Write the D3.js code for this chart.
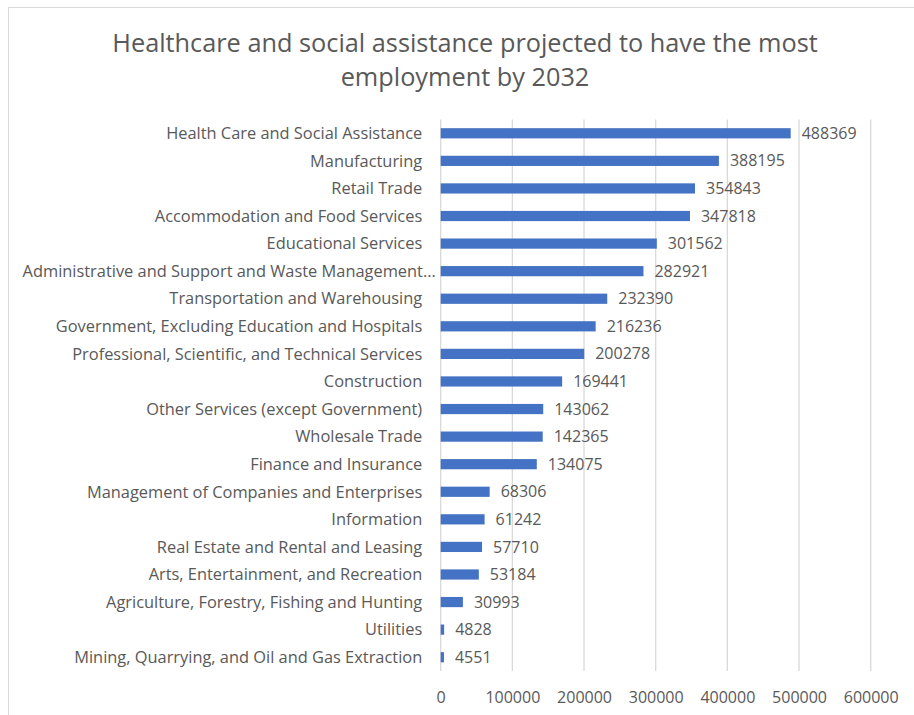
<!DOCTYPE html>
<html>
<head>
<meta charset="utf-8">
<script src="https://cdn.jsdelivr.net/npm/d3@7"></script>
<style>
  html, body { margin: 0; padding: 0; background: #fff; }
  svg { display: block; font-family: "Open Sans", sans-serif; }
</style>
</head>
<body>
<svg id="chart" width="914" height="715"></svg>
<script>
// Projected employment by industry, 2032
const industries = [
  "Health Care and Social Assistance",
  "Manufacturing",
  "Retail Trade",
  "Accommodation and Food Services",
  "Educational Services",
  "Administrative and Support and Waste Management…",
  "Transportation and Warehousing",
  "Government, Excluding Education and Hospitals",
  "Professional, Scientific, and Technical Services",
  "Construction",
  "Other Services (except Government)",
  "Wholesale Trade",
  "Finance and Insurance",
  "Management of Companies and Enterprises",
  "Information",
  "Real Estate and Rental and Leasing",
  "Arts, Entertainment, and Recreation",
  "Agriculture, Forestry, Fishing and Hunting",
  "Utilities",
  "Mining, Quarrying, and Oil and Gas Extraction"
];
const employment = [
  488369, 388195, 354843, 347818, 301562, 282921, 232390, 216236, 200278, 169441,
  143062, 142365, 134075, 68306, 61242, 57710, 53184, 30993, 4828, 4551
];
const xTicks = [0, 100000, 200000, 300000, 400000, 500000, 600000];
const titleLines = [
  "Healthcare and social assistance projected to have the most",
  "employment by 2032"
];

const textColor = "#595959";
const gridColor = "#d9d9d9";
const barColor = "#4472C4";

const svg = d3.select("#chart");

// chart frame
svg.append("rect")
  .attr("x", 8.5).attr("y", 7.5)
  .attr("width", 930).attr("height", 730)
  .attr("fill", "#fff")
  .attr("stroke", "#d9d9d9")
  .attr("stroke-width", 1);

const plot = { left: 440.7, right: 870.7, top: 119.5, bottom: 671 };

const x = d3.scaleLinear()
  .domain([0, 600000])
  .range([plot.left, plot.right]);

const y = d3.scaleBand()
  .domain(industries)
  .range([plot.top, plot.bottom])
  .paddingInner(0.63)
  .paddingOuter(0.315);

// title
svg.append("text")
  .attr("x", 465)
  .attr("y", 52)
  .attr("text-anchor", "middle")
  .attr("fill", textColor)
  .attr("font-size", 25.3)
  .selectAll("tspan")
  .data(titleLines)
  .join("tspan")
  .attr("x", 465)
  .attr("dy", (d, i) => i === 0 ? 0 : 34)
  .text(d => d);

// vertical gridlines
svg.append("g")
  .selectAll("line")
  .data(xTicks.slice(1))
  .join("line")
  .attr("x1", d => x(d)).attr("x2", d => x(d))
  .attr("y1", plot.top).attr("y2", plot.bottom)
  .attr("stroke", gridColor)
  .attr("stroke-width", 1.3);

// category axis line
svg.append("line")
  .attr("x1", x(0)).attr("x2", x(0))
  .attr("y1", plot.top).attr("y2", plot.bottom)
  .attr("stroke", gridColor)
  .attr("stroke-width", 1.3);

// value axis
const xAxis = d3.axisBottom(x)
  .tickValues(xTicks)
  .tickFormat(d3.format("d"))
  .tickSize(0)
  .tickPadding(0);

const xg = svg.append("g")
  .attr("transform", `translate(0, ${plot.bottom})`)
  .call(xAxis);
xg.select(".domain").remove();
xg.selectAll("text")
  .attr("y", 26)
  .attr("dy", "0.35em")
  .attr("fill", textColor)
  .attr("font-size", 16)
  .attr("font-family", "Open Sans, sans-serif");

// category axis
const yAxis = d3.axisLeft(y).tickSize(0).tickPadding(0);
const yg = svg.append("g")
  .attr("transform", `translate(${x(0)}, 0)`)
  .call(yAxis);
yg.select(".domain").remove();
yg.selectAll("text")
  .attr("x", d => d.endsWith("…") ? -5 : -18.5)
  .attr("dy", "0.35em")
  .attr("fill", textColor)
  .attr("font-size", 16.4)
  .attr("font-family", "Open Sans, sans-serif");

// bars
const rows = industries.map((name, i) => ({ name, value: employment[i] }));

svg.append("g")
  .selectAll("rect")
  .data(rows)
  .join("rect")
  .attr("x", x(0))
  .attr("y", d => y(d.name))
  .attr("width", d => x(d.value) - x(0))
  .attr("height", y.bandwidth())
  .attr("fill", barColor);

// value labels
svg.append("g")
  .selectAll("text")
  .data(rows)
  .join("text")
  .attr("x", d => x(d.value) + 11)
  .attr("y", d => y(d.name) + y.bandwidth() / 2)
  .attr("dy", "0.35em")
  .attr("fill", textColor)
  .attr("font-size", 16)
  .text(d => d.value);
</script>
</body>
</html>
